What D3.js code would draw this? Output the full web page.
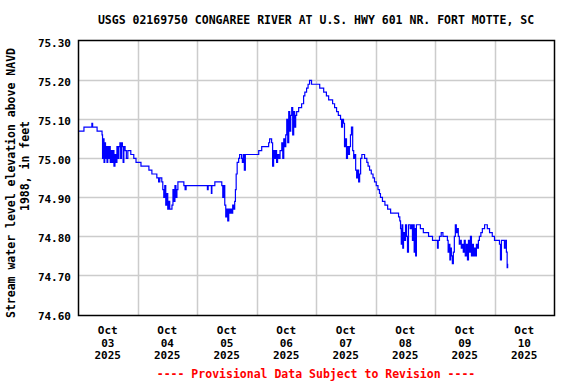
<!DOCTYPE html>
<html lang="en">

<head>
    <meta charset="UTF-8">
    <title>USGS 02169750</title>
    <script src="https://cdn.jsdelivr.net/npm/d3@7"></script>
    <style>
        body { margin: 0; background: #fff; }
        text { font-family: "DejaVu Sans Mono", monospace; font-weight: bold; }
    </style>
</head>

<body>
    <script>
    // hours since Oct 03 2025 00:00
    var hours = [0, 2.4, 5.6, 5.9, 7.7, 9.7, 9.9, 10.2, 10.5, 10.8, 11.1, 11.4, 11.7, 12.0, 12.4, 12.7, 13.0, 13.4, 13.8,
        14.1, 14.5, 14.9, 15.3, 15.7, 16.1, 16.5, 16.9, 17.2, 17.5, 17.9, 18.2, 18.5, 19.0, 19.5, 20.1, 21.3, 22.5,
        23.4, 25.4, 28.6, 29.8, 31.8, 32.5, 33.0, 33.8, 34.2, 34.6, 35.0, 35.4, 35.8, 36.2, 36.6, 37.0, 37.9,
        38.3, 38.7, 39.1, 39.5, 39.9, 40.3, 42.7, 43.2, 43.6, 52.0, 52.2, 52.5, 53.8, 54.0, 55.2, 58.0, 58.4, 58.8,
        59.2, 59.6, 60.0, 60.4, 60.8, 61.2, 61.6, 62.0, 62.4, 62.8, 63.2, 63.5, 63.8, 64.2, 64.8, 65.2, 66.0, 66.3,
        66.7, 67.1, 67.5, 68.1, 72.9, 74.1, 76.9, 77.3, 78.1, 78.5, 78.9, 79.3, 79.7, 80.1, 80.5, 81.0, 81.5, 82.2,
        82.6, 83.0, 83.4, 83.8, 84.2, 84.6, 85.0, 85.4, 85.8, 86.2, 86.6, 87.0, 87.4, 87.8, 88.2, 89.0, 90.2, 91.0,
        91.5, 92.2, 92.8, 93.4, 94.2, 96.3, 97.5, 99.1, 100.2, 101.1, 102.7, 103.5, 104.3, 105.0, 105.9, 106.3,
        106.7, 107.1, 107.5, 107.9, 108.3, 108.7, 109.1, 109.5, 109.9, 110.3, 110.8, 111.2, 111.6, 112.0, 112.4,
        112.8, 113.2, 113.6, 114.0, 114.5, 115.6, 116.5, 117.0, 117.6, 118.3, 119.0, 119.6, 120.3, 121.0, 121.6,
        122.0, 122.8, 123.8, 124.9, 126.1, 129.3, 129.8, 130.1, 130.4, 130.7, 131.0, 131.3, 131.7, 132.1, 132.5,
        132.9, 133.3, 134.0, 134.5, 134.9, 135.3, 135.6, 135.9, 136.2, 136.5, 138.1, 139.3, 141.4, 143.0, 144.5,
        145.0, 145.3, 145.8, 146.5, 147.2, 147.8, 149.0, 149.3, 149.6, 150.0, 150.3, 150.6, 151.0, 151.4, 151.8,
        152.2, 152.6, 153.0, 153.4, 153.8, 154.2, 154.6, 155.0, 155.4, 155.8, 156.2, 156.7, 157.1, 157.5, 157.9,
        158.3, 158.7, 159.1, 159.5, 159.9, 160.3, 160.7, 161.1, 161.5, 161.9, 162.5, 163.1, 164.0, 165.1, 166.0,
        167.1, 168.0, 169.1, 170.0, 170.4, 170.8, 171.5, 172.0, 172.5, 172.8, 173.1, 173.3];
    // stream water level elevation, feet
    var elevation = [75.07, 75.08, 75.09, 75.08, 75.07, 75.06, 75.00, 75.05, 74.99, 75.04, 75.00, 75.03, 74.99, 75.03, 75.00, 75.03, 74.99, 75.02, 74.99,
        75.02, 74.98, 75.01, 74.99, 75.03, 75.00, 75.03, 75.04, 75.00, 75.04, 75.03, 74.99, 75.03, 75.02, 75.00, 75.02, 75.01, 75.00,
        74.99, 74.98, 74.97, 74.96, 74.95, 74.94, 74.95, 74.94, 74.92, 74.90, 74.93, 74.88, 74.91, 74.87, 74.89, 74.87, 74.88,
        74.92, 74.89, 74.93, 74.90, 74.92, 74.94, 74.93, 74.92, 74.93, 74.93, 74.92, 74.93, 74.91, 74.93, 74.94, 74.93, 74.90, 74.93,
        74.88, 74.85, 74.87, 74.84, 74.87, 74.86, 74.87, 74.86, 74.88, 74.87, 74.89, 74.92, 74.96, 74.99, 75.00, 75.01, 75.00, 74.99,
        75.01, 74.97, 75.01, 75.01, 75.02, 75.03, 75.04, 75.05, 75.04, 74.98, 75.02, 75.00, 75.02, 74.99, 75.01, 75.00, 75.02, 75.04,
        75.00, 75.05, 75.03, 75.06, 75.10, 75.04, 75.12, 75.07, 75.11, 75.13, 75.06, 75.12, 75.08, 75.11, 75.12, 75.13, 75.14, 75.16,
        75.17, 75.18, 75.19, 75.20, 75.19, 75.19, 75.18, 75.17, 75.16, 75.15, 75.14, 75.13, 75.12, 75.11, 75.10, 75.08,
        75.10, 75.09, 75.03, 75.05, 75.00, 75.03, 75.01, 75.03, 75.06, 75.08, 75.02, 75.00, 75.01, 74.97, 74.95,
        74.97, 74.94, 74.96, 75.00, 75.01, 75.00, 74.99, 74.98, 74.97, 74.96, 74.95, 74.94, 74.93, 74.92, 74.91,
        74.90, 74.89, 74.88, 74.87, 74.86, 74.85, 74.84, 74.82, 74.78, 74.83, 74.77, 74.81, 74.79, 74.83, 74.80,
        74.76, 74.83, 74.82, 74.83, 74.79, 74.83, 74.76, 74.82, 74.75, 74.83, 74.82, 74.81, 74.80, 74.79, 74.79,
        74.77, 74.79, 74.80, 74.81, 74.80, 74.80, 74.79, 74.76, 74.78, 74.74, 74.77, 74.75, 74.73, 74.76, 74.80,
        74.83, 74.81, 74.82, 74.80, 74.78, 74.79, 74.77, 74.78, 74.76, 74.79, 74.75, 74.78, 74.74, 74.79, 74.76,
        74.80, 74.75, 74.78, 74.75, 74.77, 74.75, 74.78, 74.77, 74.79, 74.80, 74.81, 74.82, 74.83, 74.82, 74.81,
        74.80, 74.79, 74.79, 74.78, 74.74, 74.79, 74.79, 74.77, 74.79, 74.76, 74.72, 74.73];
    var yTicks = [74.60, 74.70, 74.80, 74.90, 75.00, 75.10, 75.20, 75.30];
    var dayLabels = ['03', '04', '05', '06', '07', '08', '09', '10'];

    var width = 576;
    var height = 384;
    var start = new Date(2025, 9, 3);
    var end = new Date(2025, 9, 11);

    var svg = d3.select('body')
        .append('svg')
        .attr('width', width)
        .attr('height', height);

    // plot area
    var plot = { left: 78, right: 554, top: 40, bottom: 315 };

    var x = d3.scaleTime()
        .domain([start, end])
        .range([plot.left, plot.right]);
    var y = d3.scaleLinear()
        .domain([74.60, 75.30])
        .range([314.5, 41.3]);

    var data = hours.map(function(h, i) {
        return { t: new Date(start.getTime() + h * 3600e3), v: elevation[i] };
    });

    // grid
    svg.append('g')
        .selectAll('line')
        .data(yTicks.slice(1, -1))
        .enter()
        .append('line')
        .attr('x1', plot.left)
        .attr('x2', plot.right)
        .attr('y1', function(d) { return Math.round(y(d)) + 0.5; })
        .attr('y2', function(d) { return Math.round(y(d)) + 0.5; })
        .attr('stroke', '#cccccc')
        .attr('stroke-width', 1.5);
    svg.append('g')
        .selectAll('line')
        .data(d3.timeDay.range(d3.timeDay.offset(start, 1), end))
        .enter()
        .append('line')
        .attr('x1', function(d) { return Math.round(x(d)) + 0.5; })
        .attr('x2', function(d) { return Math.round(x(d)) + 0.5; })
        .attr('y1', plot.top)
        .attr('y2', plot.bottom)
        .attr('stroke', '#cccccc')
        .attr('stroke-width', 1.5);

    // data line
    var line = d3.line()
        .x(function(d) { return x(d.t); })
        .y(function(d) { return y(d.v); })
        .curve(d3.curveStepAfter);
    svg.append('path')
        .datum(data)
        .attr('fill', 'none')
        .attr('stroke', '#0000ff')
        .attr('stroke-width', 1.2)
        .attr('d', line);

    // frame
    svg.append('rect')
        .attr('x', plot.left + 0.5)
        .attr('y', plot.top + 0.5)
        .attr('width', plot.right - plot.left)
        .attr('height', plot.bottom - plot.top)
        .attr('fill', 'none')
        .attr('stroke', '#000')
        .attr('stroke-width', 1.5);

    // y tick labels
    svg.append('g')
        .selectAll('text')
        .data(yTicks)
        .enter()
        .append('text')
        .attr('x', 71)
        .attr('y', function(d) { return y(d) + 5.5; })
        .attr('text-anchor', 'end')
        .attr('font-size', '11px')
        .text(function(d) { return d.toFixed(2); });

    // x tick labels at noon of each day
    var xl = svg.append('g')
        .selectAll('text')
        .data(dayLabels)
        .enter()
        .append('text')
        .attr('text-anchor', 'middle')
        .attr('font-size', '11px')
        .attr('transform', function(d, i) {
            var noon = new Date(start.getTime() + (i * 24 + 12) * 3600e3);
            return 'translate(' + x(noon) + ',334)';
        });
    xl.append('tspan').attr('x', 0).attr('y', 0).text('Oct');
    xl.append('tspan').attr('x', 0).attr('y', 12.7).text(function(d) { return d; });
    xl.append('tspan').attr('x', 0).attr('y', 25.4).text('2025');

    // title
    svg.append('text')
        .attr('x', 316)
        .attr('y', 24)
        .attr('text-anchor', 'middle')
        .attr('font-size', '11.5px')
        .text('USGS 02169750 CONGAREE RIVER AT U.S. HWY 601 NR. FORT MOTTE, SC');

    // y axis title
    svg.append('text')
        .attr('transform', 'translate(15,183) rotate(-90)')
        .attr('text-anchor', 'middle')
        .attr('font-size', '11.5px')
        .text('Stream water level elevation above NAVD');
    svg.append('text')
        .attr('transform', 'translate(29,166) rotate(-90)')
        .attr('text-anchor', 'middle')
        .attr('font-size', '11.5px')
        .text('1988, in feet');

    // footer
    svg.append('text')
        .attr('x', 316)
        .attr('y', 378)
        .attr('text-anchor', 'middle')
        .attr('font-size', '11.5px')
        .attr('fill', '#ff0000')
        .text('---- Provisional Data Subject to Revision ----');
    </script>
</body>

</html>
